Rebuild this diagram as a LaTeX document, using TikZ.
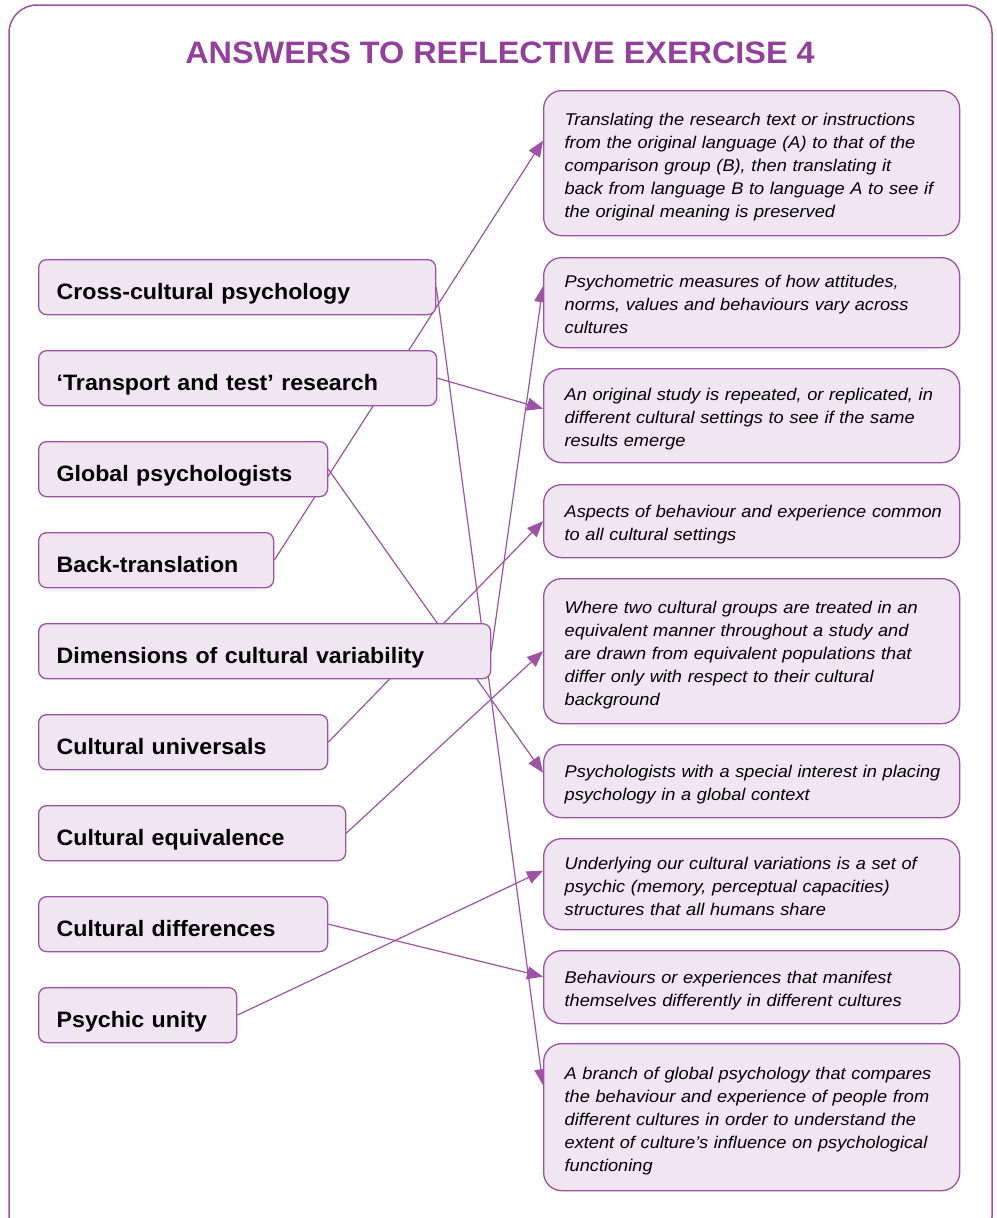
\documentclass[tikz,border=0pt]{standalone}
\usepackage{fontspec}
\setmainfont{Liberation Sans}
\newfontfamily\titlefont[FakeStretch=1.045]{Liberation Sans}
\newfontfamily\termfont[FakeStretch=1.04]{Liberation Sans}
\newfontfamily\defnfont[FakeStretch=1.07]{Liberation Sans}
\usetikzlibrary{arrows.meta,backgrounds}
\definecolor{plum}{RGB}{158,82,166}
\definecolor{plumtitle}{RGB}{147,64,155}
\definecolor{lilac}{RGB}{240,230,242}
% struts that fix the height of the first and the depth of the last text line
\newcommand\firststrut{\rule{0pt}{21pt}}
\newcommand\laststrut{\rule[-5pt]{0pt}{5pt}}

\begin{document}
\begin{tikzpicture}[x=1pt,y=-1pt,
  term/.style n args={2}{draw=plum, fill=lilac, line width=1.3pt,
    rounded corners=8pt, anchor=north west, minimum width=#1pt,
    text width=#2pt, minimum height=55pt, inner xsep=18pt, inner ysep=0pt,
    text height=25pt, text depth=0pt, align=left,
    font=\termfont\fontsize{22.3}{26}\selectfont\bfseries},
  defn/.style={draw=plum, fill=lilac, line width=1.3pt,
    rounded corners=18pt, anchor=north west, minimum width=416pt,
    text width=374pt, inner xsep=21pt, inner ysep=0pt, minimum height=#1pt,
    align=left, font=\defnfont\fontsize{17}{23}\selectfont\itshape},
  link/.style={plum, line width=1.2pt, -{Triangle[length=16pt,width=13pt]}}
]
\useasboundingbox (0,0) rectangle (996,1218);

% outer frame
\draw[plum, line width=1.5pt, rounded corners=28pt] (9,5) rectangle (992,1245);

% title
\node[text=plumtitle, font=\titlefont\fontsize{31}{36}\selectfont\bfseries] (title) at (500,53)
  {ANSWERS TO REFLECTIVE EXERCISE 4};

% terms
\node[term={397}{361}] (cc)    at (38,259) {Cross-cultural psychology};
\node[term={398}{362}] (tt)    at (38,350) {‘Transport and test’ research};
\node[term={289}{253}] (glob)  at (38,441) {Global psychologists};
\node[term={235}{199}] (bt)    at (38,532) {Back-translation};
\node[term={452}{416}] (dim)   at (38,623) {Dimensions of cultural variability};
\node[term={289}{253}] (univ)  at (38,714) {Cultural universals};
\node[term={307}{271}] (equiv) at (38,805) {Cultural equivalence};
\node[term={289}{253}] (diff)  at (38,896) {Cultural differences};
\node[term={198}{162}] (unity) at (38,987) {Psychic unity};

% definitions
\node[defn=145] (r1) at (543,90) {\firststrut Translating the research text or instructions\\
  from the original language (A) to that of the\\
  comparison group (B), then translating it\\
  back from language B to language A to see if\\
  the original meaning is preserved\laststrut};
\node[defn=90] (r2) at (543,257) {\firststrut Psychometric measures of how attitudes,\\
  norms, values and behaviours vary across\\
  cultures\laststrut};
\node[defn=94] (r3) at (543,368) {\firststrut An original study is repeated, or replicated, in\\
  different cultural settings to see if the same\\
  results emerge\laststrut};
\node[defn=73] (r4) at (543,484) {\firststrut\mbox{Aspects of behaviour and experience common}\\
  to all cultural settings\laststrut};
\node[defn=145] (r5) at (543,578) {\firststrut Where two cultural groups are treated in an\\
  equivalent manner throughout a study and\\
  are drawn from equivalent populations that\\
  differ only with respect to their cultural\\
  background\laststrut};
\node[defn=73] (r6) at (543,744) {\firststrut\mbox{Psychologists with a special interest in placing}\\
  psychology in a global context\laststrut};
\node[defn=91] (r7) at (543,838) {\firststrut Underlying our cultural variations is a set of\\
  psychic (memory, perceptual capacities)\\
  structures that all humans share\laststrut};
\node[defn=73] (r8) at (543,950) {\firststrut Behaviours or experiences that manifest\\
  themselves differently in different cultures\laststrut};
\node[defn=147] (r9) at (543,1043) {\firststrut A branch of global psychology that compares\\
  the behaviour and experience of people from\\
  different cultures in order to understand the\\
  extent of culture’s influence on psychological\\
  functioning\laststrut};

% connectors, drawn behind the boxes
\begin{pgfonlayer}{background}
\draw[link] (bt.east)    -- ([yshift=22.5pt]r1.west);
\draw[link] (dim.east)   -- ([yshift=16.5pt]r2.west);
\draw[link] (tt.east)    -- ([yshift=7pt]r3.west);
\draw[link] (univ.east)  -- (r4.west);
\draw[link] (equiv.east) -- (r5.west);
\draw[link] (glob.east)  -- ([yshift=8.5pt]r6.west);
\draw[link] (unity.east) -- ([yshift=13.5pt]r7.west);
\draw[link] (diff.east)  -- ([yshift=10.5pt]r8.west);
\draw[link] (cc.east)    -- ([yshift=32pt]r9.west);
\end{pgfonlayer}
\end{tikzpicture}
\end{document}
